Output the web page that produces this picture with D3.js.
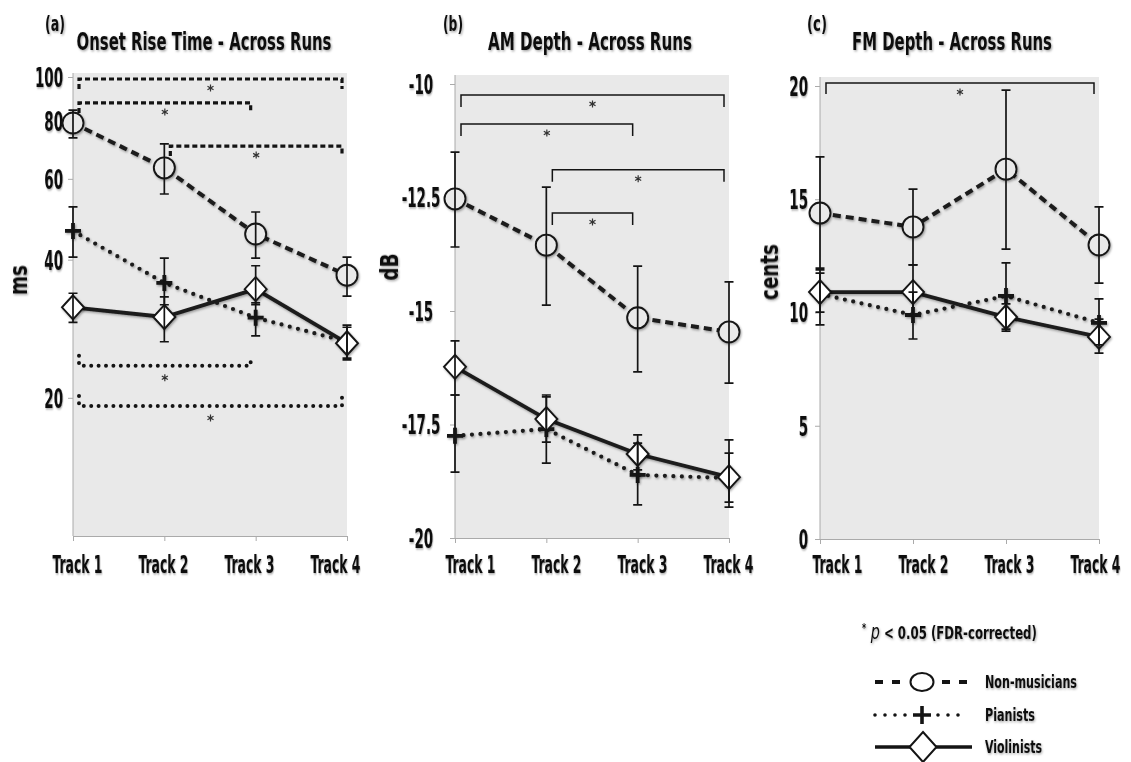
<!DOCTYPE html>
<html>
<head>
<meta charset="utf-8">
<script src="https://cdn.jsdelivr.net/npm/d3@7"></script>
<style>
body{margin:0;background:#fff}
svg{display:block}
text{font-family:"Liberation Sans Narrow","DejaVu Sans Condensed","Liberation Sans",sans-serif;fill:#111;font-weight:bold}
</style>
</head>
<body>
<div id="chart"></div>
<script>
const tracks = ["Track 1", "Track 2", "Track 3", "Track 4"]
const groups = ["Non-musicians", "Pianists", "Violinists"]

// (a) onset rise time (ms, log axis)
const onsetTicks = [20, 40, 60, 80, 100]
const onsetNon   = [79.4, 63.4, 45.5, 37.0]
const onsetNonLo = [73.7, 55.6, 40.3, 33.3]
const onsetNonHi = [84.7, 71.5, 50.8, 40.5]
const onsetPia   = [46.2, 35.6, 29.9, 26.5]
const onsetPiaLo = [40.5, 31.9, 27.3, 24.4]
const onsetPiaHi = [52.1, 40.3, 32.2, 28.5]
const onsetVio   = [31.5, 30.0, 34.5, 26.3]
const onsetVioLo = [29.2, 26.5, 31.9, 24.2]
const onsetVioHi = [33.8, 33.2, 38.8, 28.8]
const onsetSig = [
  {from: 0, to: 3, at: 99.0, grp: "non"},
  {from: 0, to: 2, at: 87.8, grp: "non"},
  {from: 1, to: 3, at: 70.7, grp: "non"},
  {from: 0, to: 2, at: 23.5, grp: "pia"},
  {from: 0, to: 3, at: 19.2, grp: "pia"}
]

// (b) AM depth (dB)
const amTicks = [-20, -17.5, -15, -12.5, -10]
const amNon   = [-12.53, -13.55, -15.15, -15.46]
const amNonLo = [-13.59, -14.87, -16.34, -16.59]
const amNonHi = [-11.50, -12.27, -14.01, -14.36]
const amPia   = [-17.75, -17.60, -18.61, -18.68]
const amPiaLo = [-18.55, -18.35, -19.27, -19.21]
const amPiaHi = [-16.85, -16.85, -17.91, -18.13]
const amVio   = [-16.23, -17.38, -18.15, -18.66]
const amVioLo = [-16.85, -17.89, -18.50, -19.32]
const amVioHi = [-15.66, -16.89, -17.73, -17.84]
const amSig = [
  {from: 0, to: 3, at: -10.24},
  {from: 0, to: 2, at: -10.88},
  {from: 1, to: 3, at: -11.89},
  {from: 1, to: 2, at: -12.84}
]

// (c) FM depth (cents)
const fmTicks = [0, 5, 10, 15, 20]
const fmNon   = [14.39, 13.78, 16.33, 12.98]
const fmNonLo = [11.96, 12.10, 12.80, 11.30]
const fmNonHi = [16.87, 15.45, 19.82, 14.66]
const fmPia   = [10.82, 9.89, 10.73, 9.54]
const fmPiaLo = [9.45, 8.83, 9.27, 8.57]
const fmPiaHi = [11.74, 10.90, 12.19, 10.60]
const fmVio   = [10.90, 10.90, 9.80, 8.92]
const fmVioLo = [10.02, 9.85, 9.18, 8.21]
const fmVioHi = [11.88, 12.10, 10.38, 9.71]
const fmSig = [
  {from: 0, to: 3, at: 20.13}
]

const W = 1131, H = 762
const BG = "#e9e9e9", INK = "#141414"

const svg = d3.select("#chart").append("svg")
  .attr("width", W)
  .attr("height", H)

const defs = svg.append("defs")
const flt = defs.append("filter").attr("id", "sh")
  .attr("x", "-20%").attr("y", "-20%").attr("width", "140%").attr("height", "140%")
flt.append("feDropShadow")
  .attr("dx", 1).attr("dy", 1.4).attr("stdDeviation", 1.3)
  .attr("flood-color", "#000").attr("flood-opacity", 0.35)

// the reference font is very condensed, squeeze glyphs horizontally
const probe = svg.append("text").attr("font-size", 24).text("Track 1")
const K = 50 / probe.node().getComputedTextLength()
probe.remove()

function label(parent, x, y, str, size, anchor, width, rot) {
  const t = parent.append("text")
    .attr("font-size", size)
    .attr("text-anchor", anchor || "start")
    .text(str)
  const k = width ? width / t.node().getComputedTextLength() : K
  t.attr("transform", `translate(${x},${y})` + (rot ? ` rotate(${rot})` : "") + ` scale(${k},1)`)
  return t
}

const lineStyle = {
  non: {width: 4, dash: "8,5", cap: "butt"},
  pia: {width: 4.2, dash: "0,8.5", cap: "round"},
  vio: {width: 3.8, dash: null, cap: "round"}
}

const panels = [
  {tag: "(a)", title: "Onset Rise Time - Across Runs", unit: "ms",
   x0: 73, x1: 347, top: 73, y0: 536, y1: 77, log: true, domain: [10, 100], ticks: onsetTicks,
   tagX: 45, titleX: 204, titleW: 255, unitX: 27, unitY: 280, unitW: 30,
   tickX: -10, tickAnchor: "end", xlOff: 4,
   sig: onsetSig, endLen: 10, sigStyle: "dash",
   series: [
     {key: "non", mean: onsetNon, lo: onsetNonLo, hi: onsetNonHi},
     {key: "pia", mean: onsetPia, lo: onsetPiaLo, hi: onsetPiaHi},
     {key: "vio", mean: onsetVio, lo: onsetVioLo, hi: onsetVioHi}
   ]},
  {tag: "(b)", title: "AM Depth - Across Runs", unit: "dB",
   x0: 455, x1: 729, top: 75, y0: 538, y1: 84, log: false, domain: [-20, -10], ticks: amTicks,
   tagX: 443, titleX: 590, titleW: 204, unitX: 398, unitY: 267, unitW: 27,
   tickX: -34, tickAnchor: "middle", xlOff: 15,
   sig: amSig, endLen: 12, sigStyle: "solid",
   series: [
     {key: "non", mean: amNon, lo: amNonLo, hi: amNonHi},
     {key: "pia", mean: amPia, lo: amPiaLo, hi: amPiaHi},
     {key: "vio", mean: amVio, lo: amVioLo, hi: amVioHi}
   ]},
  {tag: "(c)", title: "FM Depth - Across Runs", unit: "cents",
   x0: 820, x1: 1099, top: 77, y0: 539, y1: 86, log: false, domain: [0, 20], ticks: fmTicks,
   tagX: 807, titleX: 952, titleW: 200, unitX: 778, unitY: 272, unitW: 56,
   tickX: -12, tickAnchor: "end", xlOff: 17,
   sig: fmSig, endLen: 11, sigStyle: "solid",
   series: [
     {key: "non", mean: fmNon, lo: fmNonLo, hi: fmNonHi},
     {key: "pia", mean: fmPia, lo: fmPiaLo, hi: fmPiaHi},
     {key: "vio", mean: fmVio, lo: fmVioLo, hi: fmVioHi}
   ]}
]

function marker(sel, key) {
  if (key === "non") {
    sel.append("circle").attr("r", 10.5)
      .attr("fill", BG).attr("stroke", INK).attr("stroke-width", 1.9)
  } else if (key === "pia") {
    sel.append("path").attr("d", "M-8,0H8M0,-8V8")
      .attr("fill", "none").attr("stroke", INK).attr("stroke-width", 3.8)
  } else {
    sel.append("path").attr("d", "M0,-12L11,0L0,12L-11,0Z")
      .attr("fill", "#fff").attr("stroke", INK).attr("stroke-width", 1.9)
  }
}

const star = d3.symbol(d3.symbolAsterisk, 34)

function drawPanel(p) {
  const g = svg.append("g")

  const x = d3.scalePoint().domain(tracks).range([p.x0, p.x1]).padding(0)
  const xl = d3.scalePoint().domain(tracks).range([p.x0 + p.xlOff, p.x0 + p.xlOff + 258]).padding(0)
  const y = (p.log ? d3.scaleLog() : d3.scaleLinear()).domain(p.domain).range([p.y0, p.y1])

  g.append("rect")
    .attr("x", p.x0).attr("y", p.top)
    .attr("width", p.x1 - p.x0).attr("height", p.y0 - p.top)
    .attr("fill", BG)

  // y axis
  const ya = g.append("g")
    .attr("transform", `translate(${p.x0},0)`)
    .call(d3.axisLeft(y).tickValues(p.ticks).tickFormat(d => String(d)).tickSize(5).tickSizeOuter(0))
  ya.select(".domain").attr("stroke", "#aaa").attr("d", `M0,${p.top}V${p.y0}`)
  ya.selectAll(".tick line").attr("stroke", "#aaa")
  ya.selectAll(".tick text").each(function () {
    const t = d3.select(this)
    t.attr("x", null).attr("dy", "0.36em").attr("font-size", 26).attr("text-anchor", p.tickAnchor)
      .attr("filter", "url(#sh)")
    t.attr("transform", `translate(${p.tickX},0) scale(${K},1)`)
  })

  // x axis ticks and labels
  const xa = g.append("g")
    .attr("transform", `translate(0,${p.y0})`)
    .call(d3.axisBottom(x).tickFormat("").tickSize(5).tickSizeOuter(0))
  xa.select(".domain").attr("stroke", "#aaa")
  xa.selectAll(".tick line").attr("stroke", "#aaa")

  const xla = g.append("g")
    .attr("transform", `translate(0,${p.y0})`)
    .call(d3.axisBottom(xl).tickSize(0))
  xla.select(".domain").remove()
  xla.selectAll(".tick text").each(function () {
    const t = d3.select(this)
    t.attr("y", null).attr("dy", null).attr("font-size", 24).attr("filter", "url(#sh)")
    t.attr("transform", `translate(0,${573 - p.y0}) scale(${K},1)`)
  })

  // significance brackets
  const sg = g.append("g")
  p.sig.forEach(d => {
    const xa0 = x(tracks[d.from]) + 6, xb0 = x(tracks[d.to]) - 5, yy = y(d.at)
    const up = d.grp === "pia"
    const e = up ? -p.endLen : p.endLen
    const path = sg.append("path")
      .attr("d", `M${xa0},${yy + e}V${yy}H${xb0}V${yy + e}`)
      .attr("fill", "none").attr("stroke", INK)
    if (p.sigStyle === "solid") {
      path.attr("stroke-width", 1.5)
    } else if (d.grp === "pia") {
      path.attr("stroke-width", 4).attr("stroke-dasharray", "0,7.4").attr("stroke-linecap", "round")
    } else {
      path.attr("stroke-width", 3.2).attr("stroke-dasharray", "5,3")
    }
    sg.append("path")
      .attr("d", star())
      .attr("transform", `translate(${(xa0 + xb0) / 2},${yy + (up ? 12 : 9)})`)
      .attr("fill", "none").attr("stroke", "#333").attr("stroke-width", 1.2)
  })

  // series lines
  const line = d3.line().x((d, i) => x(tracks[i])).y(d => y(d))
  const lg = g.append("g").attr("filter", "url(#sh)")
  p.series.forEach(s => {
    const st = lineStyle[s.key]
    lg.append("path")
      .attr("d", line(s.mean))
      .attr("fill", "none")
      .attr("stroke", "#1c1c1c")
      .attr("stroke-width", st.width)
      .attr("stroke-dasharray", st.dash)
      .attr("stroke-linecap", st.cap)
  })

  // markers
  const mg = g.append("g").attr("filter", "url(#sh)")
  p.series.forEach(s => {
    s.mean.forEach((v, i) => {
      marker(mg.append("g").attr("transform", `translate(${x(tracks[i])},${y(v)})`), s.key)
    })
  })

  // error bars
  const eg = g.append("g")
  p.series.forEach(s => {
    s.mean.forEach((v, i) => {
      const cx = x(tracks[i]), a = y(s.hi[i]), b = y(s.lo[i])
      eg.append("path")
        .attr("d", `M${cx},${a}V${b}M${cx - 4.5},${a}H${cx + 4.5}M${cx - 4.5},${b}H${cx + 4.5}`)
        .attr("fill", "none").attr("stroke", INK).attr("stroke-width", 1.7)
    })
  })

  // titles
  const tg = svg.append("g").attr("filter", "url(#sh)")
  label(tg, p.tagX, 31, p.tag, 22, "start", 20)
  label(tg, p.titleX, 50, p.title, 24, "middle", p.titleW)
  label(tg, p.unitX, p.unitY, p.unit, 25, "middle", p.unitW, -90)
}

panels.forEach(drawPanel)

// legend
const leg = svg.append("g")
const pt = leg.append("text").attr("font-size", 18).attr("filter", "url(#sh)")
pt.append("tspan").attr("font-size", 12).attr("dy", -7).text("*")
pt.append("tspan").attr("dy", 7).attr("font-style", "italic").attr("font-weight", "normal").attr("font-size", 22).text(" p")
pt.append("tspan").text(" < 0.05 (FDR-corrected)")
pt.attr("transform", `translate(862,639) scale(${175 / pt.node().getComputedTextLength()},1)`)

const rows = [
  {key: "non", y: 682, w: 92},
  {key: "pia", y: 715, w: 50},
  {key: "vio", y: 747, w: 57}
]
rows.forEach((r, i) => {
  const rg = leg.append("g")
  if (r.key === "non") {
    [[875, 903], [942, 970]].forEach(s => rg.append("line")
      .attr("x1", s[0]).attr("x2", s[1]).attr("y1", r.y).attr("y2", r.y)
      .attr("stroke", INK).attr("stroke-width", 4).attr("stroke-dasharray", "8,9"))
    rg.append("ellipse").attr("cx", 922).attr("cy", r.y).attr("rx", 11.5).attr("ry", 9)
      .attr("fill", "#fff").attr("stroke", INK).attr("stroke-width", 2)
  } else if (r.key === "pia") {
    [[875, 906], [938, 968]].forEach(s => rg.append("line")
      .attr("x1", s[0]).attr("x2", s[1]).attr("y1", r.y).attr("y2", r.y)
      .attr("stroke", INK).attr("stroke-width", 3.6).attr("stroke-dasharray", "0,10").attr("stroke-linecap", "round"))
    rg.append("path").attr("d", `M913,${r.y}H931M922,${r.y - 9}V${r.y + 9}`)
      .attr("stroke", INK).attr("stroke-width", 3.6)
  } else {
    rg.append("line").attr("x1", 875).attr("x2", 972).attr("y1", r.y).attr("y2", r.y)
      .attr("stroke", INK).attr("stroke-width", 3.6)
    rg.append("path").attr("d", `M923,${r.y - 15}L936.5,${r.y}L923,${r.y + 15}L909.5,${r.y}Z`)
      .attr("fill", "#fff").attr("stroke", INK).attr("stroke-width", 2)
  }
  label(leg, 985, r.y + 6, groups[i], 18, "start", r.w).attr("filter", "url(#sh)")
})
</script>
</body>
</html>
